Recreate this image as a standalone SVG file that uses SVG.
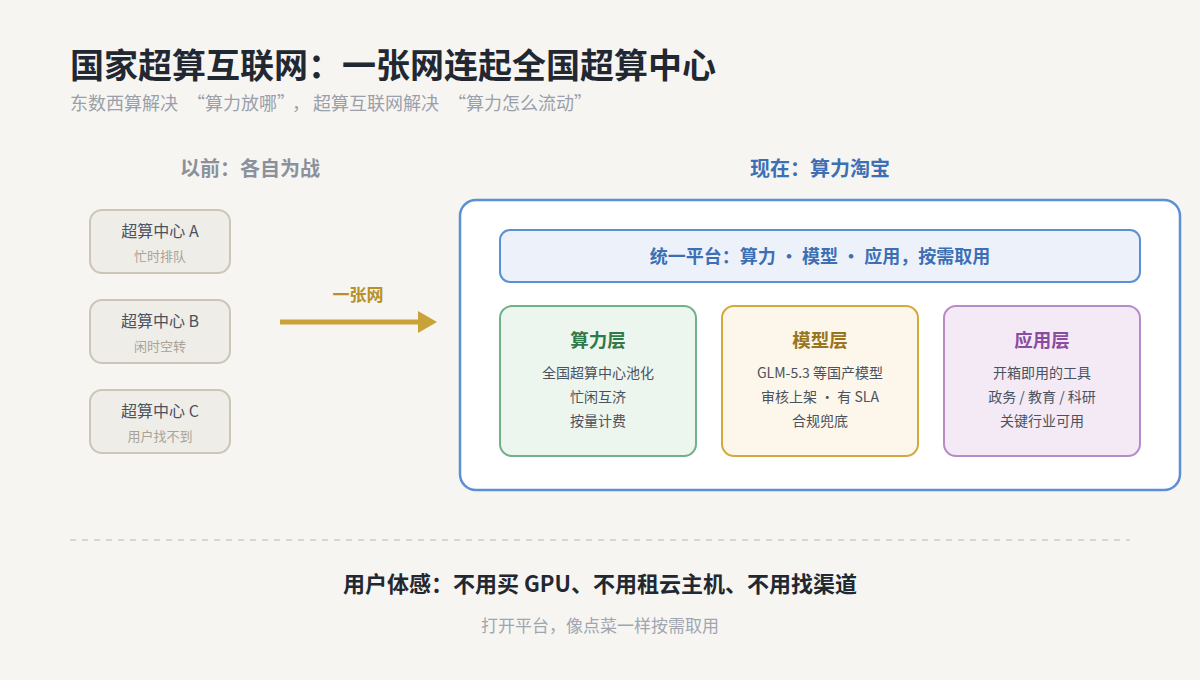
<svg xmlns="http://www.w3.org/2000/svg" width="1200" height="680" viewBox="0 0 1200 680">
<defs>
<style>
text{font-family:"Noto Sans CJK SC","Noto Sans",sans-serif}
.b{font-weight:700}
.old rect{fill:#efede8;stroke:#cdc6b8;stroke-width:2}
.ot{font-size:16px;fill:#4a5260;text-anchor:middle}
.os{font-size:13px;fill:#a9a397;text-anchor:middle}
.lt{font-size:18.5px;font-weight:700;text-anchor:middle}
.ll{font-size:14px;fill:#4a5260;text-anchor:middle}
</style>
</defs>
<rect width="1200" height="680" fill="#f7f5f1"/>
<text x="70" y="78" class="b" font-size="34" fill="#222831">国家超算互联网：一张网连起全国超算中心</text>
<text x="70" y="110" font-size="18" fill="#9aa0aa">东数西算解决<tspan dx="9">“算力放哪”</tspan><tspan dx="6">，</tspan><tspan dx="3">超算互联网解决</tspan><tspan dx="9">“算力怎么流动”</tspan></text>
<text x="250" y="176" class="b" font-size="20" fill="#8a919c" text-anchor="middle">以前：各自为战</text>
<text x="820" y="176" class="b" font-size="20" fill="#3d6fb5" text-anchor="middle">现在：算力淘宝</text>
<g id="centerA" class="old"><rect x="90" y="210" width="140" height="63" rx="12"/><text x="160" y="237" class="ot">超算中心 A</text><text x="160" y="261" class="os">忙时排队</text></g>
<g id="centerB" class="old"><rect x="90" y="300" width="140" height="63" rx="12"/><text x="160" y="327" class="ot">超算中心 B</text><text x="160" y="351" class="os">闲时空转</text></g>
<g id="centerC" class="old"><rect x="90" y="390" width="140" height="63" rx="12"/><text x="160" y="417" class="ot">超算中心 C</text><text x="160" y="441" class="os">用户找不到</text></g>
<g id="connectors"><line x1="280" y1="322" x2="420" y2="322" stroke="#c9a23a" stroke-width="5"/><polygon points="418,311 437,322 418,333" fill="#c9a23a"/><text x="358" y="301" class="b" font-size="17" fill="#b8902a" text-anchor="middle">一张网</text></g>
<g id="platform">
<rect x="460" y="200" width="720" height="290" rx="16" fill="#ffffff" stroke="#5b8fd6" stroke-width="2.5"/>
<rect x="500" y="230" width="640" height="52" rx="10" fill="#edf2fa" stroke="#5b8fd6" stroke-width="2"/>
<text x="820" y="263" class="b" font-size="18" fill="#3d6fb5" text-anchor="middle">统一平台：算力 • 模型 • 应用，按需取用</text>
</g>
<g id="compute"><rect x="500" y="306" width="196" height="150" rx="12" fill="#edf5ef" stroke="#72b08a" stroke-width="2"/><text x="598" y="347" class="lt" fill="#2f7a4b">算力层</text><text x="598" y="378" class="ll">全国超算中心池化</text><text x="598" y="402" class="ll">忙闲互济</text><text x="598" y="426" class="ll">按量计费</text></g>
<g id="model"><rect x="722" y="306" width="196" height="150" rx="12" fill="#fdf6ea" stroke="#d4a83a" stroke-width="2"/><text x="820" y="347" class="lt" fill="#9a7520">模型层</text><text x="820" y="378" class="ll">GLM-5.3 等国产模型</text><text x="820" y="402" class="ll">审核上架 · 有 SLA</text><text x="820" y="426" class="ll">合规兜底</text></g>
<g id="app"><rect x="944" y="306" width="196" height="150" rx="12" fill="#f3eaf6" stroke="#b88ac8" stroke-width="2"/><text x="1042" y="347" class="lt" fill="#8a4ca0">应用层</text><text x="1042" y="378" class="ll">开箱即用的工具</text><text x="1042" y="402" class="ll">政务 / 教育 / 科研</text><text x="1042" y="426" class="ll">关键行业可用</text></g>
<line x1="70" y1="540" x2="1130" y2="540" stroke="#dcd6cc" stroke-width="2" stroke-dasharray="6 6"/>
<text x="600" y="592" class="b" font-size="22" fill="#222831" text-anchor="middle">用户体感：不用买 GPU、不用租云主机、不用找渠道</text>
<text x="600" y="632" font-size="17" fill="#a0a6b0" text-anchor="middle">打开平台，像点菜一样按需取用</text>
</svg>
